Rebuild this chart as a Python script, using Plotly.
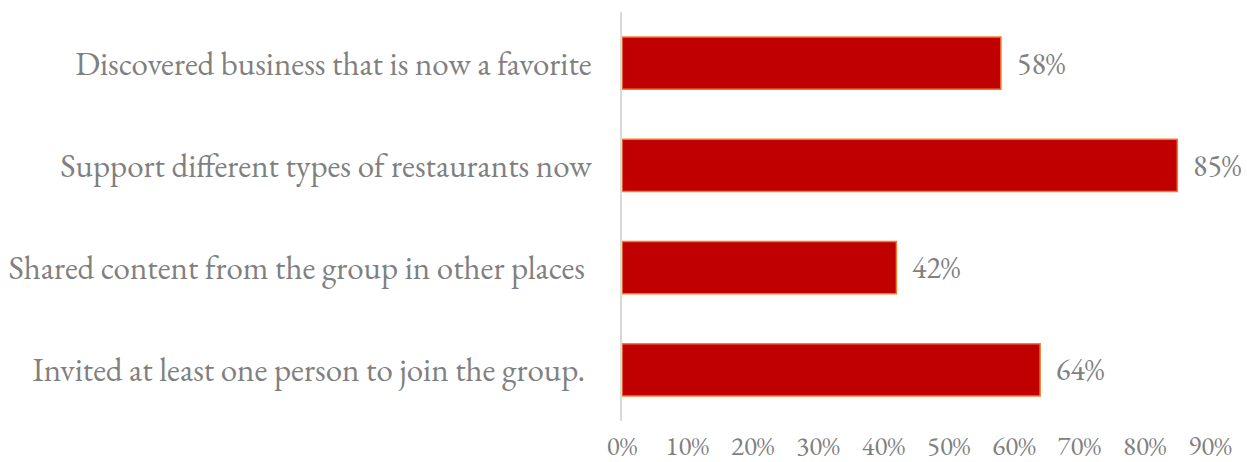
import plotly.graph_objects as go

# Survey results, listed top to bottom
categories = [
    "Discovered business that is now a favorite",
    "Support different types of restaurants now",
    "Shared content from the group in other places ",
    "Invited at least one person to join the group. ",
]
shares = [0.58, 0.85, 0.42, 0.64]
tick_values = [0, 0.1, 0.2, 0.3, 0.4, 0.5, 0.6, 0.7, 0.8, 0.9]
tick_labels = ["0%", "10%", "20%", "30%", "40%", "50%", "60%", "70%", "80%", "90%"]

FONT = "Garamond, 'EB Garamond', 'Liberation Serif', serif"
GREY = "#808080"

fig = go.Figure(
    go.Bar(
        y=categories,
        x=shares,
        orientation="h",
        marker=dict(color="#C00000", line=dict(color="#ED7D31", width=1.5)),
        hoverinfo="skip",
    )
)

for cat, val in zip(categories, shares):
    fig.add_annotation(
        x=val, y=cat, text=f"{round(val * 100)}%",
        xanchor="left", yanchor="middle", xshift=14, showarrow=False,
        font=dict(family=FONT, size=30, color=GREY),
    )

fig.update_layout(
    width=1247, height=462,
    margin=dict(l=622, r=37, t=12, b=41),
    paper_bgcolor="white", plot_bgcolor="white",
    bargap=0.49,
    showlegend=False,
    font=dict(family=FONT, color=GREY),
)
fig.update_xaxes(
    range=[0, 0.9], tickvals=tick_values, ticktext=tick_labels,
    showgrid=False, zeroline=False, showline=False,
    tickfont=dict(family=FONT, size=27, color=GREY),
    ticklabelstandoff=6, automargin=False,
)
fig.update_yaxes(
    autorange="reversed", showgrid=False, zeroline=False,
    showline=True, linecolor="#D9D9D9", linewidth=1.5,
    tickfont=dict(family=FONT, size=33, color=GREY),
    ticklabelstandoff=22, automargin=False,
)

fig.write_html("out.html")
